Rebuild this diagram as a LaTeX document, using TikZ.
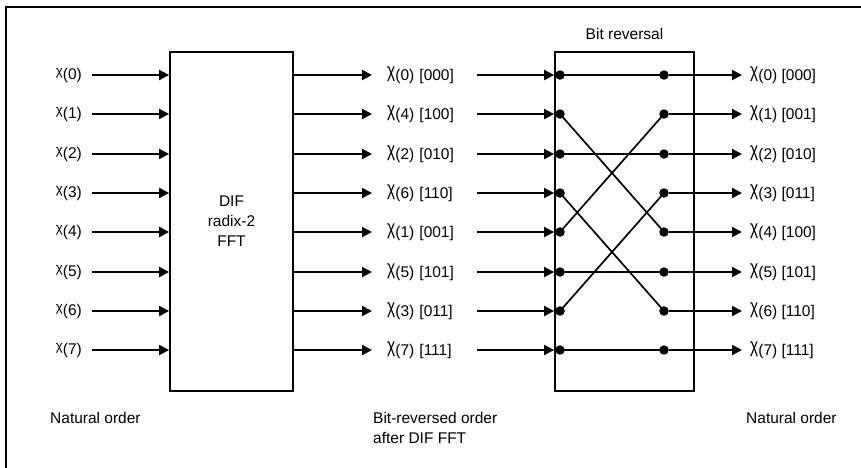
\documentclass[tikz,border=0pt]{standalone}
\usepackage{fontspec}
\setmainfont{Liberation Sans}
\usepackage{graphicx}
\usetikzlibrary{arrows.meta,calc,positioning}
\newcommand{\chin}{\raisebox{.22em}{\scalebox{.85}{χ}}}
\newcommand{\chout}{\raisebox{.21em}{\scalebox{1}[1.3]{χ}}}
\tikzset{
  sig/.style={line width=2pt,-{Triangle[length=10pt,width=10pt]}},
  wire/.style={line width=1.7pt},
  blk/.style={draw,line width=1.8pt,minimum width=#1,minimum height=339pt,inner sep=0pt},
  lbl/.style={inner sep=0pt},
  jn/.style={circle,fill,inner sep=0pt,minimum size=9.5pt}
}

\begin{document}
\begin{tikzpicture}[x=1pt,y=-1pt,font=\fontsize{15.5}{20}\selectfont]
\clip (0,0) rectangle (861,467);
\useasboundingbox (0,0) rectangle (861,467);
\draw[line width=2.2pt] (6,7) rectangle (900,500);

% the two blocks
\node[blk=123pt,align=center] (dif) at (231.5,221.5) {DIF\\radix-2\\FFT};
\node[blk=139pt] (br) at (624.5,221.5) {};
\node[lbl,above=11pt of br] (brt) {Bit reversal};

% rows: row, index after DIF, its bits, natural bits
\foreach \i/\k/\b/\c in {0/0/000/000,1/4/100/001,2/2/010/010,3/6/110/011,
                         4/1/001/100,5/5/101/101,6/3/011/110,7/7/111/111}{
  \pgfmathsetmacro\y{round(75+39.3*\i)}
  \node[lbl,anchor=east] (inp\i) at (82,\y) {\chin(\i)};
  \node[lbl,anchor=west,text width=67pt] (mid\i) at (387,\y) {\chout(\k) [\b]};
  \node[lbl,anchor=west] (out\i) at (750,\y) {\chout(\i) [\c]};
  \node[jn] (l\i) at (560,\y) {};
  \node[jn] (r\i) at (664,\y) {};
  \draw[sig] ($(inp\i.east)+(10,0)$) -- (inp\i -| dif.west);
  \draw[sig] (dif.east |- mid\i) -- ($(mid\i.west)+(-15,0)$);
  \draw[sig] ($(mid\i.east)+(23,0)$) -- (mid\i -| br.west);
  \draw[sig] (r\i) -- ($(out\i.west)+(-8,0)$);
}
\foreach \i/\k in {0/0,1/4,2/2,3/6,4/1,5/5,6/3,7/7}
  \draw[wire] (l\i.center) -- (r\k.center);

\node[lbl,anchor=west] (nat1) at (50,418) {Natural order};
\node[lbl,anchor=north west,align=left] (bro) at (373,412) {Bit-reversed order\\after DIF FFT};
\node[lbl,anchor=west] (nat2) at (746,418) {Natural order};
\end{tikzpicture}
\end{document}
